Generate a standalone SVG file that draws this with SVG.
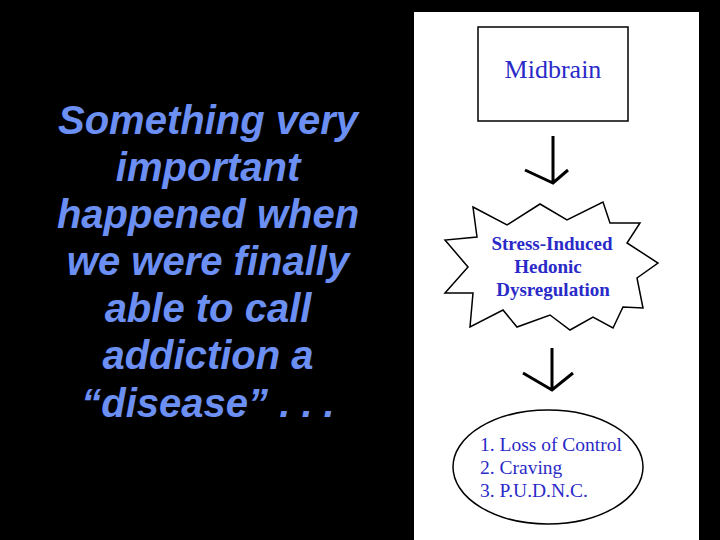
<svg xmlns="http://www.w3.org/2000/svg" width="720" height="540" viewBox="0 0 720 540">
<style>
.lt{font-family:"Liberation Sans",Arial,sans-serif;font-weight:bold;font-style:italic;font-size:40px;fill:#6b8ff2;text-anchor:middle}
.nt{font-family:"Liberation Serif","Times New Roman",serif;fill:#2a2ac8}
.sh{fill:#fff;stroke:#000;stroke-width:1.5}
.ar{fill:none;stroke:#000;stroke-width:3;stroke-linejoin:miter}
</style>
<rect width="720" height="540" fill="#000"/>
<rect x="414" y="12" width="285" height="528" fill="#fff"/>
<g id="caption">
<text class="lt" x="208" y="134">Something very</text>
<text class="lt" x="208" y="181">important</text>
<text class="lt" x="208" y="228">happened when</text>
<text class="lt" x="208" y="275">we were finally</text>
<text class="lt" x="208" y="322">able to call</text>
<text class="lt" x="208" y="369">addiction a</text>
<text class="lt" x="208" y="417">“disease” . . .</text>
</g>
<g id="connectors">
<path class="ar" d="M553,136 V183 M525,170 L553,183 L568,170"/>
<path class="ar" d="M552,348 V390 M523,373 L552,390 L573,373"/>
</g>
<g id="midbrain">
<rect class="sh" x="478" y="27" width="150" height="94"/>
<text class="nt" x="553" y="78" font-size="26" text-anchor="middle">Midbrain</text>
</g>
<g id="stress">
<polygon class="sh" points="473,207 507,225 540,204 567,220 603,202 610,223 640,223 627,243 658,263 637,278 643,308 623,307 613,328 593,317 570,330 550,315 517,327 503,310 470,327 473,293 445,293 468,267 445,240 477,237"/>
<text class="nt" font-size="19" font-weight="bold" text-anchor="middle"><tspan x="552" y="250">Stress-Induced</tspan><tspan x="548" y="273">Hedonic</tspan><tspan x="553" y="296">Dysregulation</tspan></text>
</g>
<g id="symptoms">
<ellipse class="sh" cx="548" cy="467" rx="95" ry="57" stroke-width="1.2"/>
<text class="nt" font-size="19.5"><tspan x="480" y="451">1. Loss of Control</tspan><tspan x="480" y="474">2. Craving</tspan><tspan x="480" y="497">3. P.U.D.N.C.</tspan></text>
</g>
</svg>
